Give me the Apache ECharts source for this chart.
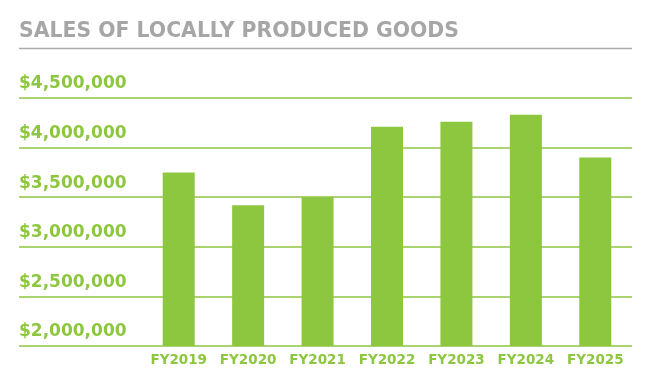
<!DOCTYPE html>
<html>
<head>
<meta charset="utf-8">
<script src="https://cdn.jsdelivr.net/npm/echarts@6/dist/echarts.min.js"></script>
<style>html,body{margin:0;padding:0;background:#fff}#c{width:660px;height:384px}</style>
</head>
<body>
<div id="c"></div>
<script>
var titleText = 'SALES OF LOCALLY PRODUCED GOODS';
var categories = ['FY2019', 'FY2020', 'FY2021', 'FY2022', 'FY2023', 'FY2024', 'FY2025'];
var sales = [3750000, 3420000, 3500000, 4210000, 4260000, 4330000, 3900000];
var yMin = 2000000, yMax = 4500000, yStep = 500000;

var green = '#8dc63f';
var FONT = 'DejaVu Sans';
var chart = echarts.init(document.getElementById('c'));
chart.setOption({
  animation: false,
  title: {
    text: titleText,
    left: 19, top: 22, padding: 0,
    textStyle: { fontFamily: FONT, fontWeight: 'bold', fontSize: 20.4, color: '#a6a6a6' }
  },
  graphic: [{
    type: 'line',
    shape: { x1: 19, y1: 48.5, x2: 632, y2: 48.5 },
    style: { stroke: '#ababab', lineWidth: 1.5 }
  }],
  grid: [
    { left: 19, right: 28, top: 98, bottom: 38 },
    { left: 144, right: 30, top: 98, bottom: 38 }
  ],
  xAxis: [
    { type: 'value', gridIndex: 0, show: false, min: 0, max: 1 },
    {
      type: 'category', gridIndex: 1, data: categories,
      axisLine: { show: false }, axisTick: { show: false },
      axisLabel: { interval: 0, hideOverlap: false, color: green, fontFamily: FONT, fontWeight: 'bold', fontSize: 13.5, margin: 7 }
    }
  ],
  yAxis: [
    {
      type: 'value', gridIndex: 0, min: yMin, max: yMax, interval: yStep,
      axisLine: { show: false }, axisTick: { show: false },
      splitLine: { lineStyle: { color: green, width: 1.5 } },
      axisLabel: {
        inside: true, margin: 0, align: 'left', verticalAlign: 'bottom',
        lineHeight: 18, padding: [0, 0, 5, 0],
        color: green, fontFamily: FONT, fontWeight: 'bold', fontSize: 17,
        formatter: function (v) { return '$' + v.toLocaleString('en-US'); }
      }
    },
    { type: 'value', gridIndex: 1, min: yMin, max: yMax, interval: yStep, show: false }
  ],
  series: [{
    type: 'bar', xAxisIndex: 1, yAxisIndex: 1, data: sales,
    barWidth: 32, itemStyle: { color: green }
  }]
});
</script>
</body>
</html>
